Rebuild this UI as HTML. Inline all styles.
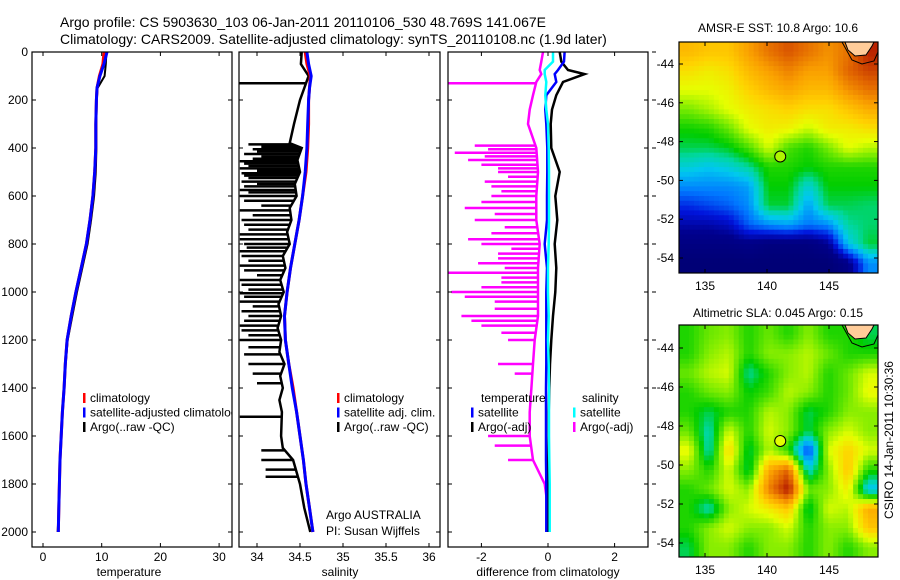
<!DOCTYPE html>
<html><head><meta charset="utf-8"><style>
html,body{margin:0;padding:0;background:#fff;}
svg{display:block;font-family:"Liberation Sans",sans-serif;}
</style></head><body>
<svg id="fig" width="900" height="580" viewBox="0 0 900 580" xmlns="http://www.w3.org/2000/svg">
<text x="60" y="27" font-size="14">Argo profile: CS 5903630_103 06-Jan-2011 20110106_530 48.769S 141.067E</text>
<text x="60" y="44" font-size="14">Climatology: CARS2009. Satellite-adjusted climatology: synTS_20110108.nc (1.9d later)</text>
<defs>
<clipPath id="c1"><rect x="32" y="52" width="200" height="495"/></clipPath>
<clipPath id="c2"><rect x="239" y="52" width="201" height="495"/></clipPath>
<clipPath id="c3"><rect x="448" y="52" width="200" height="495"/></clipPath>
<clipPath id="cm1"><rect x="679" y="42" width="199" height="231"/></clipPath>
<clipPath id="cm2"><rect x="679" y="325" width="199" height="232"/></clipPath>
</defs>
<g id="g1" clip-path="url(#c1)"></g>
<g id="g2" clip-path="url(#c2)"></g>
<g id="g3" clip-path="url(#c3)"></g>
<g id="gm1" clip-path="url(#cm1)"></g>
<g id="gm2" clip-path="url(#cm2)"></g>
<g id="axes"></g>
<text x="129" y="576" font-size="12" text-anchor="middle">temperature</text>
<text x="340" y="576" font-size="12" text-anchor="middle">salinity</text>
<text x="548" y="576" font-size="12" text-anchor="middle">difference from climatology</text>
<text x="326" y="519" font-size="12">Argo AUSTRALIA</text>
<text x="326" y="535" font-size="12">PI: Susan Wijffels</text>
<text x="778" y="32" font-size="12" text-anchor="middle">AMSR-E SST: 10.8 Argo: 10.6</text>
<text x="778" y="317" font-size="12" text-anchor="middle">Altimetric SLA: 0.045 Argo: 0.15</text>
<text transform="translate(893,440) rotate(-90)" font-size="12" text-anchor="middle">CSIRO 14-Jan-2011 10:30:36</text>
</svg>
<script>
// ---- data ----
const depths = [0,50,100,150,200,300,400,500,600,700,800,900,1000,1100,1200,1300,1400,1500,1600,1700,1800,1900,2000];
const tempClim = [10.4,10.2,9.6,9.2,9.1,9.0,9.0,8.8,8.5,8.0,7.4,6.5,5.6,4.8,4.1,3.8,3.6,3.3,3.1,2.9,2.8,2.7,2.6];
const tempSat  = [10.9,10.4,9.7,9.2,9.1,9.0,9.0,8.8,8.5,8.0,7.4,6.5,5.6,4.8,4.1,3.8,3.6,3.3,3.1,2.9,2.8,2.7,2.6];
const tempArgo = [10.8,10.7,10.5,9.3,9.15,9.1,9.1,9.0,8.7,8.2,7.6,6.7,5.8,5.0,4.2,3.85,3.6,3.3,3.1,2.9,2.8,2.7,2.5];
const salClim = [34.56,34.58,34.62,34.61,34.60,34.60,34.59,34.57,34.53,34.49,34.44,34.39,34.35,34.32,34.33,34.37,34.42,34.46,34.50,34.54,34.57,34.61,34.65];
const salSat  = [34.58,34.60,34.63,34.61,34.60,34.59,34.58,34.56,34.53,34.49,34.44,34.39,34.35,34.32,34.33,34.37,34.41,34.46,34.50,34.54,34.57,34.61,34.65];
const argoSalDepths = [0,50,100,130,150,200,300,380,400,450,500,550,600,650,700,750,800,850,900,950,1000,1050,1100,1150,1200,1250,1300,1350,1400,1450,1500,1600,1650,1700,1800,1900,2000];
const argoSal = [34.52,34.51,34.60,34.57,34.55,34.50,34.43,34.38,34.52,34.47,34.50,34.44,34.46,34.38,34.40,34.35,34.38,34.30,34.33,34.27,34.31,34.25,34.28,34.24,34.28,34.26,34.32,34.27,34.30,34.26,34.29,34.28,34.30,34.42,34.50,34.55,34.62];
const salSpikeDepths = [130,385,395,405,415,425,435,445,455,465,475,485,495,505,515,525,540,550,560,575,585,600,620,640,660,680,700,720,740,760,780,800,815,830,850,870,890,910,930,950,970,990,1005,1020,1040,1060,1080,1100,1120,1140,1160,1180,1200,1230,1260,1300,1340,1380,1520,1660,1700,1740,1770];
const salSpikeValues = [33.79,33.9,34.05,33.95,34.0,33.85,34.05,33.95,33.8,33.85,33.9,33.8,34.0,33.82,33.85,33.9,33.82,34.0,33.85,33.8,33.9,33.8,33.85,34.05,33.8,33.95,33.82,33.85,33.9,33.8,33.8,33.85,33.88,33.8,33.82,33.9,33.8,33.85,34.0,33.8,33.82,33.9,33.8,33.85,33.8,33.95,33.82,33.9,33.85,33.8,33.82,33.9,33.8,33.9,33.85,33.9,33.95,34.0,33.8,34.05,34.05,34.1,34.1];
const diffDepths = [0,40,75,92,125,180,240,300,400,500,600,700,800,900,1000,1100,1200,1300,1400,1500,1600,1700,1800,1900,2000];
const diffTempArgo = [0.35,0.4,0.6,1.1,0.45,0.25,0.12,0.08,0.1,0.35,0.22,0.28,0.2,0.25,0.22,0.15,0.1,0.06,0.04,0.02,0.02,0.01,0.0,0.0,0.0];
const diffTempSat = [0.5,0.48,0.3,0.2,0.25,-0.05,-0.08,-0.05,-0.02,-0.02,-0.03,-0.03,-0.1,-0.03,-0.05,-0.05,-0.05,-0.05,-0.06,-0.06,-0.06,-0.06,-0.05,-0.05,-0.05];
const diffSalSat = [0.15,0.15,-0.1,-0.1,-0.05,-0.08,-0.05,0.0,0.02,0.03,0.03,0.03,0.02,0.0,0.0,0.02,0.0,0.02,0.03,0.03,0.03,0.04,0.05,0.05,0.05];
const diffSalArgo = [-0.15,-0.2,-0.25,-0.2,-0.35,-0.45,-0.55,-0.6,-0.35,-0.3,-0.35,-0.35,-0.25,-0.3,-0.3,-0.3,-0.4,-0.45,-0.5,-0.55,-0.55,-0.45,-0.1,0.0,0.0];
const magSpikeDepths = [130,390,405,420,435,450,470,485,500,520,540,560,580,600,625,650,675,700,730,755,780,800,820,840,860,880,900,920,940,960,980,1000,1020,1040,1070,1100,1120,1140,1170,1200,1300,1340,1600,1640,1700];
const magSpikeValues = [-3,-2.2,-1.8,-2.8,-1.9,-2.4,-2.0,-1.5,-1.5,-1.2,-1.9,-1.7,-1.4,-1.7,-2.0,-2.5,-1.6,-2.2,-1.3,-1.7,-2.4,-2.0,-1.1,-1.5,-1.5,-2.1,-1.3,-3,-1.4,-1.4,-2.0,-2.9,-2.5,-1.6,-1.6,-2.6,-2.3,-2.0,-1.4,-1.2,-1.5,-1.0,-1.8,-1.6,-1.2];
const depthTicks = [0,200,400,600,800,1000,1200,1400,1600,1800,2000];
const tempTicks = [0,10,20,30];
const salTicks = [34,34.5,35,35.5,36];
const diffTicks = [-2,0,2];
const lonTicks = [135,140,145];
const latTicks = [-44,-46,-48,-50,-52,-54];
const argoLon = 141.067, argoLat = -48.769;
const sstGrid = [
[0.74,0.72,0.72,0.78,0.84,0.88,0.84,0.8,0.84,0.94],
[0.68,0.66,0.68,0.74,0.78,0.82,0.78,0.78,0.86,0.9],
[0.63,0.63,0.65,0.7,0.74,0.77,0.74,0.74,0.8,0.84],
[0.56,0.59,0.63,0.66,0.68,0.7,0.68,0.68,0.72,0.76],
[0.49,0.5,0.55,0.63,0.66,0.65,0.61,0.66,0.66,0.68],
[0.45,0.45,0.47,0.53,0.62,0.53,0.5,0.56,0.63,0.6],
[0.38,0.36,0.38,0.42,0.5,0.5,0.48,0.5,0.5,0.5],
[0.3,0.3,0.3,0.32,0.48,0.48,0.38,0.48,0.48,0.48],
[0.22,0.24,0.26,0.3,0.46,0.46,0.32,0.45,0.45,0.44],
[0.15,0.15,0.17,0.26,0.3,0.32,0.28,0.3,0.42,0.44],
[0.08,0.08,0.08,0.1,0.07,0.07,0.07,0.12,0.36,0.46],
[0.03,0.03,0.03,0.03,0.03,0.03,0.03,0.03,0.1,0.3]];
const slaGrid = [
[0.5,0.55,0.57,0.5,0.55,0.5,0.57,0.5,0.5,0.45],
[0.5,0.57,0.6,0.5,0.57,0.57,0.6,0.55,0.5,0.5],
[0.55,0.6,0.62,0.42,0.5,0.57,0.6,0.5,0.55,0.62],
[0.5,0.55,0.57,0.48,0.52,0.6,0.57,0.5,0.55,0.64],
[0.5,0.45,0.5,0.5,0.6,0.57,0.45,0.5,0.57,0.57],
[0.55,0.4,0.62,0.5,0.62,0.57,0.45,0.57,0.62,0.57],
[0.64,0.4,0.7,0.45,0.6,0.5,0.22,0.62,0.7,0.62],
[0.57,0.5,0.62,0.45,0.76,0.86,0.38,0.57,0.72,0.5],
[0.5,0.55,0.62,0.57,0.82,0.96,0.55,0.57,0.66,0.35],
[0.5,0.4,0.57,0.62,0.66,0.72,0.45,0.62,0.6,0.76],
[0.5,0.57,0.62,0.57,0.57,0.62,0.5,0.57,0.57,0.72],
[0.45,0.57,0.57,0.5,0.57,0.57,0.5,0.57,0.5,0.57]];

// ---- helpers ----
const NS="http://www.w3.org/2000/svg";
function mk(tag, attrs, parent){const e=document.createElementNS(NS,tag);for(const k in attrs)e.setAttribute(k,attrs[k]);parent.appendChild(e);return e;}
const yD = d => 52 + d*0.24;
const x1 = v => 43 + v*5.87;
const x2 = v => 257 + (v-34)*86;
const x3 = v => 548 + v*33.3;
const mx = lon => 705 + (lon-135)*12.4;
const my1 = lat => 64 + (-44-lat)*19.4;
const my2 = lat => 348 + (-44-lat)*19.5;
function stepLine(g, xs, ds, xf, color, w, name){
  let p=''; for(let i=0;i<xs.length;i++){p+=(i?'L':'M')+xf(xs[i]).toFixed(1)+','+yD(ds[i]).toFixed(1);}
  const e=mk('path',{d:p,fill:'none',stroke:color,'stroke-width':w},g);
  
  
}
function spikes(g, ds, vs, baseD, baseV, xf, color, name){
  for(let i=0;i<ds.length;i++){
    let j=0; while(j<baseD.length-2 && baseD[j+1]<ds[i]) j++;
    const t=(ds[i]-baseD[j])/(baseD[j+1]-baseD[j]); const b=baseV[j]+t*(baseV[j+1]-baseV[j]);
    const e=mk('line',{x1:xf(vs[i]),x2:xf(b),y1:yD(ds[i]),y2:yD(ds[i]),stroke:color,'stroke-width':2.5},g);
    
    
  }
}
const cmapStops=[[0,[0,0,110]],[0.12,[0,0,140]],[0.2,[0,20,220]],[0.28,[0,120,255]],[0.36,[0,200,240]],[0.42,[0,215,160]],[0.48,[0,205,0]],[0.56,[120,235,0]],[0.63,[230,255,0]],[0.7,[255,210,0]],[0.78,[250,160,0]],[0.86,[225,100,0]],[0.94,[185,35,0]],[1,[150,0,0]]];
function jet(v){
  v=Math.max(0,Math.min(1,v));
  for(let i=0;i<cmapStops.length-1;i++){
    const [a,ca]=cmapStops[i],[b,cb]=cmapStops[i+1];
    if(v<=b){const t=(v-a)/(b-a);return 'rgb('+ca.map((c,k)=>Math.round(c+(cb[k]-c)*t)).join(',')+')';}
  }
  return 'rgb(150,0,0)';
}
function sample(grid,fr,fc){
  const R=grid.length-1,C=grid[0].length-1;
  fr=Math.max(0,Math.min(R,fr));fc=Math.max(0,Math.min(C,fc));
  const r0=Math.min(R-1,Math.floor(fr)),c0=Math.min(C-1,Math.floor(fc));const tr=fr-r0,tc=fc-c0;
  return grid[r0][c0]*(1-tr)*(1-tc)+grid[r0][c0+1]*(1-tr)*tc+grid[r0+1][c0]*tr*(1-tc)+grid[r0+1][c0+1]*tr*tc;
}
const ax=document.getElementById('axes');
function frame(x,y,w,h,name){const e=mk('rect',{x:x,y:y,width:w,height:h,fill:'none',stroke:'#000','stroke-width':1.2},ax);}
function txt(x,y,s,anchor,size,name,parent){const e=mk('text',{x:x,y:y,'font-size':size||12,'text-anchor':anchor||'start'},parent||ax);e.textContent=s;return e;}

// ---- panel 1 ----
const g1=document.getElementById('g1');
stepLine(g1,tempArgo,depths,x1,'#000',2,'temp-argo-line');
stepLine(g1,tempClim,depths,x1,'#f00',3,'temp-climatology-line');
stepLine(g1,tempSat,depths,x1,'#00f',3,'temp-satellite-line');
// ---- panel 2 ----
const g2=document.getElementById('g2');
spikes(g2,salSpikeDepths,salSpikeValues,argoSalDepths,argoSal,x2,'#000','sal-argo-spike');
stepLine(g2,argoSal,argoSalDepths,x2,'#000',2.5,'sal-argo-line');
stepLine(g2,salClim,depths,x2,'#f00',3,'sal-climatology-line');
stepLine(g2,salSat,depths,x2,'#00f',3,'sal-satellite-line');
// ---- panel 3 ----
const g3=document.getElementById('g3');
spikes(g3,magSpikeDepths,magSpikeValues,diffDepths,diffSalArgo,x3,'#f0f','sal-diff-argo-spike');
stepLine(g3,diffSalArgo,diffDepths,x3,'#f0f',2.5,'sal-diff-argo-line');
stepLine(g3,diffTempArgo,diffDepths,x3,'#000',2.5,'temp-diff-argo-line');
stepLine(g3,diffTempSat,diffDepths,x3,'#00f',2.5,'temp-diff-satellite-line');
stepLine(g3,diffSalSat,diffDepths,x3,'#0ff',2.5,'sal-diff-satellite-line');

// ---- frames & ticks ----
frame(32,52,200,495,'temperature-frame');frame(239,52,201,495,'salinity-frame');frame(448,52,200,495,'difference-frame');
depthTicks.forEach(d=>{
  txt(28,yD(d)+4,String(d),'end',12,'depth-tick-label');
  [[32,1],[232,-1],[239,1],[440,-1],[448,1],[648,-1]].forEach(([x,s])=>{const e=mk('line',{x1:x,x2:x+4*s,y1:yD(d),y2:yD(d),stroke:'#000'},ax);});
  const e=mk('line',{x1:652,x2:656,y1:yD(d),y2:yD(d),stroke:'#000'},ax);
});
function xt(ticks,xf,name){ticks.forEach(v=>{txt(xf(v),561,String(v),'middle',12,name);[[52,4],[547,-4]].forEach(([y,s])=>{const e=mk('line',{x1:xf(v),x2:xf(v),y1:y,y2:y+s,stroke:'#000'},ax);});});}
xt(tempTicks,x1,'temp-tick');xt(salTicks,x2,'sal-tick');xt(diffTicks,x3,'diff-tick');

// ---- legends ----
function leg(x,y,color,label,name){const e=mk('rect',{x:x,y:y-9,width:2.5,height:10,fill:color},ax);txt(x+7,y,label,'start',12,name);}
const lg1=mk('g',{'clip-path':'url(#c1)'},ax);
[['#f00','climatology'],['#00f','satellite-adjusted climatology'],['#000','Argo(..raw -QC)']].forEach((l,i)=>{const y=402+i*14.5;const e=mk('rect',{x:83,y:y-9,width:2.5,height:10,fill:l[0]},lg1);txt(90,y,l[1],'start',12,'legend-entry',lg1);});
[['#f00','climatology'],['#00f','satellite adj. clim.'],['#000','Argo(..raw -QC)']].forEach((l,i)=>leg(337,402+i*14.5,l[0],l[1],'sal-legend-entry'));
txt(481,402,'temperature','start',12,'diff-legend-temp-header');
txt(582,402,'salinity','start',12,'diff-legend-sal-header');
leg(471,416.5,'#00f','satellite','diff-legend-temp-sat');leg(471,431,'#000','Argo(-adj)','diff-legend-temp-argo');
leg(573,416.5,'#0ff','satellite','diff-legend-sal-sat');leg(573,431,'#f0f','Argo(-adj)','diff-legend-sal-argo');

// ---- maps ----
function drawMap(gid,grid,top,h,myf,name){
  const g=document.getElementById(gid);const rows=grid.length, cols=grid[0].length;
  const sub=4, nr=rows*sub, nc=cols*sub;
  const cw=199/nc, ch=h/nr;
  for(let r=0;r<nr;r++)for(let c=0;c<nc;c++){
    const v=sample(grid,(r+0.5)/sub-0.5,(c+0.5)/sub-0.5);
    const e=mk('rect',{x:(679+c*cw).toFixed(2),y:(top+r*ch).toFixed(2),width:(cw+0.5).toFixed(2),height:(ch+0.5).toFixed(2),fill:jet(v)},g);
    
    
  }
  const land=mk('path',{d:`M845,${top} L848,${top+8} L855,${top+14} L866,${top+13} L872,${top+4} L874,${top} Z`,fill:'#ffcc99',stroke:'#000','stroke-width':1},g);
  
  
  const coast=mk('path',{d:`M842,${top} L852,${top+18} L862,${top+22} L874,${top+19} L878,${top+10}`,fill:'none',stroke:'#000','stroke-width':1},g);
  
  
  const cval = sample(grid,(-42.9-argoLat)/(11.9/rows)-0.5,(argoLon-133.1)/(16/cols)-0.5);
  const c=mk('circle',{cx:mx(argoLon),cy:myf(argoLat),r:5.5,fill:jet(cval+0.05),stroke:'#000','stroke-width':1},ax);
  
  
  frame(679,top,199,h,name+'-frame');
  lonTicks.forEach(l=>{txt(mx(l),top+h+17,String(l),'middle',12,name+'-lon-label');[[top,4],[top+h,-4]].forEach(([y,s])=>{const e=mk('line',{x1:mx(l),x2:mx(l),y1:y,y2:y+s,stroke:'#000'},ax);});});
  latTicks.forEach(l=>{txt(674,myf(l)+4,String(l),'end',12,name+'-lat-label');[[679,4],[878,-4]].forEach(([x,s])=>{const e=mk('line',{x1:x,x2:x+s,y1:myf(l),y2:myf(l),stroke:'#000'},ax);});});
}
drawMap('gm1',sstGrid,42,231,my1,'sst-map');
drawMap('gm2',slaGrid,325,232,my2,'sla-map');
</script>
</body></html>
